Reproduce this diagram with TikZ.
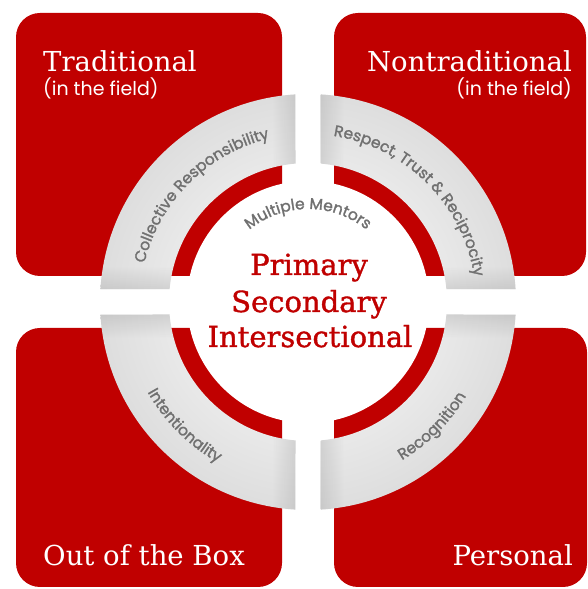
\documentclass[tikz,border=0pt]{standalone}
\usepackage{fontspec}
\setmainfont{DejaVu Serif}
\newfontfamily\labelsans{Poppins}
\newfontfamily\arcsans{Poppins}[FakeBold=1.6]
\newfontfamily\coreserif{DejaVu Serif}[FakeBold=1.3]
\usetikzlibrary{decorations.text,fadings}

\definecolor{boxred}{RGB}{192,0,0}
\definecolor{ringgray}{RGB}{112,112,112}
\pgfdeclareradialshading{ringshade}{\pgfpoint{0bp}{0bp}}{color(0bp)=(white); color(33.4bp)=(gray!35); color(38bp)=(gray!8); color(41bp)=(white); color(45bp)=(white); color(50bp)=(gray!24)}
\pgfdeclareradialshading{discshade}{\pgfpoint{0bp}{0bp}}{color(0bp)=(white); color(34bp)=(white); color(50bp)=(gray!28)}
\newcommand\arcfont{\arcsans\fontsize{15.5}{15.5}\selectfont}

\begin{document}
\begin{tikzpicture}[x=1pt, y=1pt,
    heading/.style={font=\fontsize{27.5}{27.5}\selectfont, text=white, inner sep=0pt},
    subheading/.style={font=\labelsans\fontsize{19}{19}\selectfont, text=white, inner sep=0pt},
    core/.style={font=\coreserif\fontsize{29}{29}\selectfont, text=boxred, inner sep=0pt, anchor=base},
    edgeshade/.style={gray, opacity=0.22},
    arclabel/.style={decorate, decoration={text along path, text align=center,
        text color=ringgray, text={|\arcfont|#1}}}]
    \useasboundingbox (0,0) rectangle (588,589);
    \coordinate (C) at (308,287);

    % Four corner boxes
    \fill[boxred, rounded corners=24] (16,313) rectangle (282,576);
    \fill[boxred, rounded corners=24] (334,313) rectangle (586,576);
    \fill[boxred, rounded corners=24] (16,2) rectangle (282,261);
    \fill[boxred, rounded corners=24] (334,2) rectangle (587,261);

    % Grey ring, cut into quarters, darker towards the cuts
    \foreach \b/\sx/\sy/\hf/\vf in {0/1/1/north/east, 90/-1/1/north/west, 180/-1/-1/south/west, 270/1/-1/south/east} {
        \begin{scope}
            \clip ([shift={(C)}]{\b+3.45}:208) arc[start angle=\b+3.45, end angle=\b+86.55, radius=208]
                -- ([shift={(C)}]{\b+84.84}:139) arc[start angle=\b+84.84, end angle=\b+5.16, radius=139] -- cycle;
            \shade[shading=ringshade] (C) circle (208);
            \begin{scope}[shift={(C)}]
                \fill[edgeshade, path fading=\hf] ({\sx*130},{\sy*12.5}) rectangle ({\sx*215},{\sy*36});
                \fill[edgeshade, path fading=\vf] ({\sx*12.5},{\sy*130}) rectangle ({\sx*36},{\sy*215});
            \end{scope}
        \end{scope}
    }

    % Inner disc
    \shade[shading=discshade] (C) circle (121);

    % Texts along the ring
    \path[arclabel={Collective Responsibility}] ([shift={(C)}]180:168) arc[start angle=180, end angle=90, radius=168];
    \path[arclabel={Respect, Trust {\&} Reciprocity}] ([shift={(C)}]90:168) arc[start angle=90, end angle=0, radius=168];
    \path[arclabel={Intentionality}] ([shift={(C)}]185:184) arc[start angle=185, end angle=265, radius=184];
    \path[arclabel={Recognition}] ([shift={(C)}]275:184) arc[start angle=275, end angle=355, radius=184];
    \path[arclabel={Multiple Mentors}] ([shift={(C)}]145:93) arc[start angle=145, end angle=35, radius=93];

    % Corner labels
    \node[heading, anchor=base west] (trad) at (43,517) {Traditional};
    \node[subheading, anchor=base west] (tradsub) at (43,493) {(in the field)};
    \node[heading, anchor=base east] (nontrad) at (572,517) {Nontraditional};
    \node[subheading, anchor=base east] (nontradsub) at (572,493) {(in the field)};
    \node[heading, anchor=base west] (outbox) at (43,23) {Out of the Box};
    \node[heading, anchor=base east] (personal) at (573,23) {Personal};

    % Centre
    \node[core] (primary) at (309,314) {Primary};
    \node[core] (secondary) at (309,277) {Secondary};
    \node[core] (intersect) at (310,242) {Intersectional};
\end{tikzpicture}
\end{document}
